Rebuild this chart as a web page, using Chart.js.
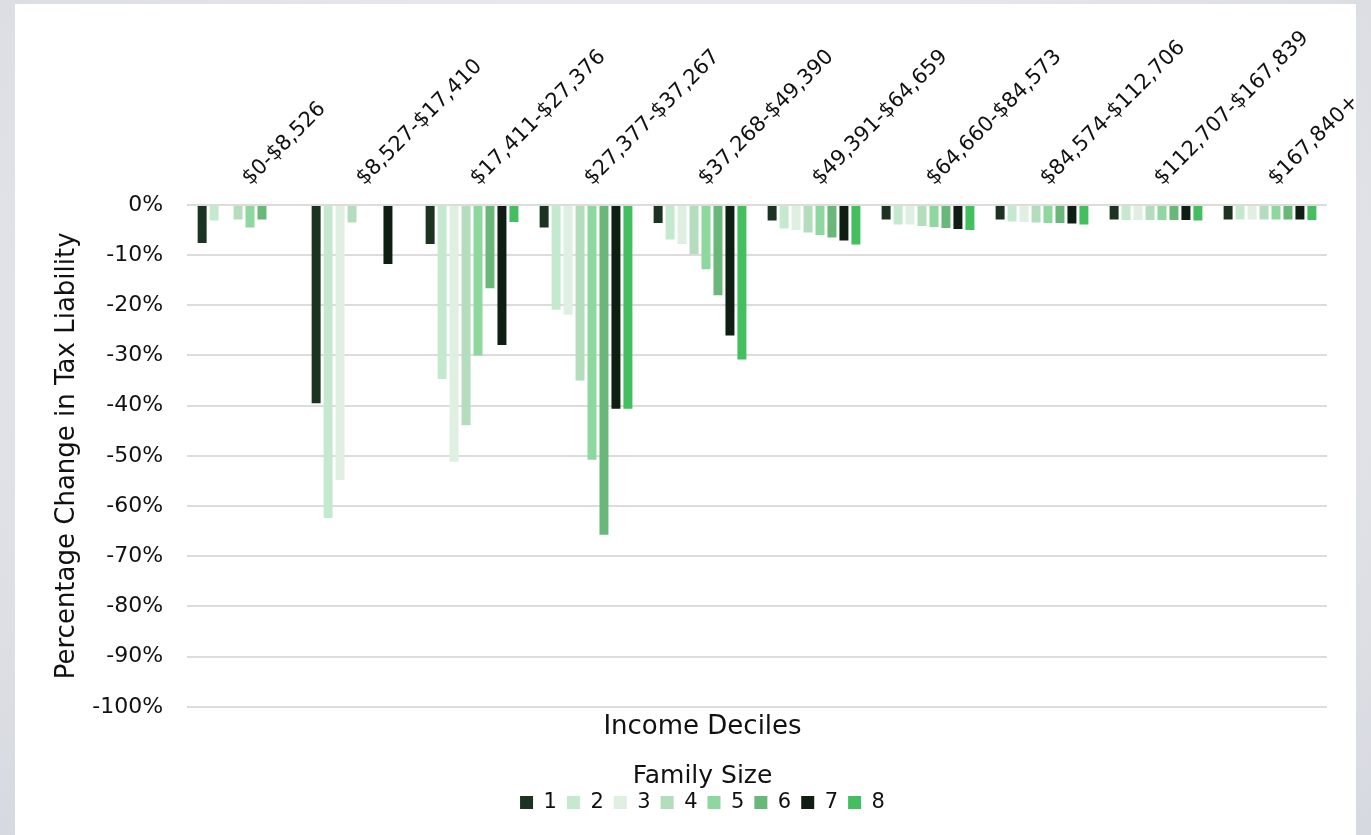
<!DOCTYPE html>
<html>
<head>
<meta charset="utf-8">
<script src="https://cdn.jsdelivr.net/npm/chart.js@4"></script>
<style>
  html, body { margin: 0; padding: 0; }
  body {
    width: 1371px; height: 835px; overflow: hidden; position: relative;
    background: radial-gradient(ellipse at 50% 40%, #f2f3f5 0%, #e3e5ea 60%, #d6d9df 100%);
  }
  #panel { position: absolute; left: 15px; top: 4px; width: 1341px; height: 840px; background: #fff; }
  #wrap { position: absolute; left: 0; top: 0; width: 1371px; height: 835px; }
</style>
</head>
<body>
<div id="panel"></div>
<div id="wrap"><canvas id="chart"></canvas></div>
<script>
  // ---------- Data ----------
  const deciles = ["$0-$8,526", "$8,527-$17,410", "$17,411-$27,376", "$27,377-$37,267", "$37,268-$49,390",
    "$49,391-$64,659", "$64,660-$84,573", "$84,574-$112,706", "$112,707-$167,839", "$167,840+"];

  // percentage change in tax liability, one array per family size
  const size1 = [-7.6, -39.5, -7.8, -4.5, -3.6, -3.1, -2.9, -2.9, -2.9, -2.9];
  const size2 = [-3.1, -62.4, -34.7, -20.9, -6.9, -4.7, -3.9, -3.3, -3.0, -2.9];
  const size3 = [null, -54.8, -51.2, -21.9, -7.8, -5.0, -3.9, -3.4, -3.0, -2.9];
  const size4 = [-2.9, -3.5, -43.9, -35.0, -9.8, -5.5, -4.2, -3.5, -3.0, -2.9];
  const size5 = [-4.5, null, -30.0, -50.8, -12.8, -6.0, -4.4, -3.6, -3.0, -2.9];
  const size6 = [-2.9, null, -16.6, -65.7, -18.0, -6.5, -4.6, -3.6, -3.0, -2.9];
  const size7 = [null, -11.8, -27.9, -40.6, -26.0, -7.1, -4.8, -3.7, -3.0, -2.9];
  const size8 = [null, null, -3.4, -40.6, -30.8, -7.9, -5.0, -3.9, -3.1, -3.0];

  const familySizes = ["1", "2", "3", "4", "5", "6", "7", "8"];
  const seriesValues = [size1, size2, size3, size4, size5, size6, size7, size8];
  const colors = ["#1b3320", "#c5e9ce", "#dff0e3", "#b3ddbc", "#8ed79e", "#69b87a", "#0e1e12", "#44bf60"];

  const FONT = "'DejaVu Sans', Tahoma, sans-serif";

  const datasets = familySizes.map((name, i) => ({
    label: name,
    data: seriesValues[i],
    backgroundColor: colors[i],
    borderWidth: 0,
    categoryPercentage: 0.84,
    barPercentage: 0.75
  }));

  new Chart(document.getElementById("chart"), {
    type: "bar",
    data: { labels: deciles, datasets },
    options: {
      responsive: true,
      maintainAspectRatio: false,
      animation: false,
      // left padding also centres the bottom title + legend where the original has them
      layout: { padding: { left: 78, right: 44, top: 20, bottom: 12 } },
      plugins: {
        tooltip: { enabled: false },
        // x axis sits on top, so its title is drawn as a bottom subtitle
        subtitle: {
          display: true, position: "bottom", weight: 500,
          text: "Income Deciles", color: "#111",
          font: { family: FONT, size: 26, weight: "normal" },
          padding: { top: 5, bottom: 21 }
        },
        legend: {
          position: "bottom",
          title: { display: true, text: "Family Size", color: "#111", font: { family: FONT, size: 25 }, padding: { top: 0, bottom: -12 } },
          labels: { boxWidth: 13, boxHeight: 13, padding: 10, color: "#111", font: { family: FONT, size: 21 } }
        }
      },
      scales: {
        x: {
          position: "top",
          grid: { display: false },
          border: { display: false },
          ticks: { minRotation: 45, maxRotation: 45, padding: 6, labelOffset: 20, color: "#111", font: { family: FONT, size: 21 } }
        },
        y: {
          min: -100,
          max: 0,
          border: { display: false },
          grid: { color: "#dcdcdc", lineWidth: 2, drawTicks: false },
          ticks: { stepSize: 10, padding: 24, color: "#111", font: { family: FONT, size: 22 }, callback: v => v + "%" },
          title: { display: true, text: "Percentage Change in Tax Liability", color: "#111", font: { family: FONT, size: 26 }, padding: { top: -26, bottom: -15 } }
        }
      }
    }
  });
</script>
</body>
</html>
